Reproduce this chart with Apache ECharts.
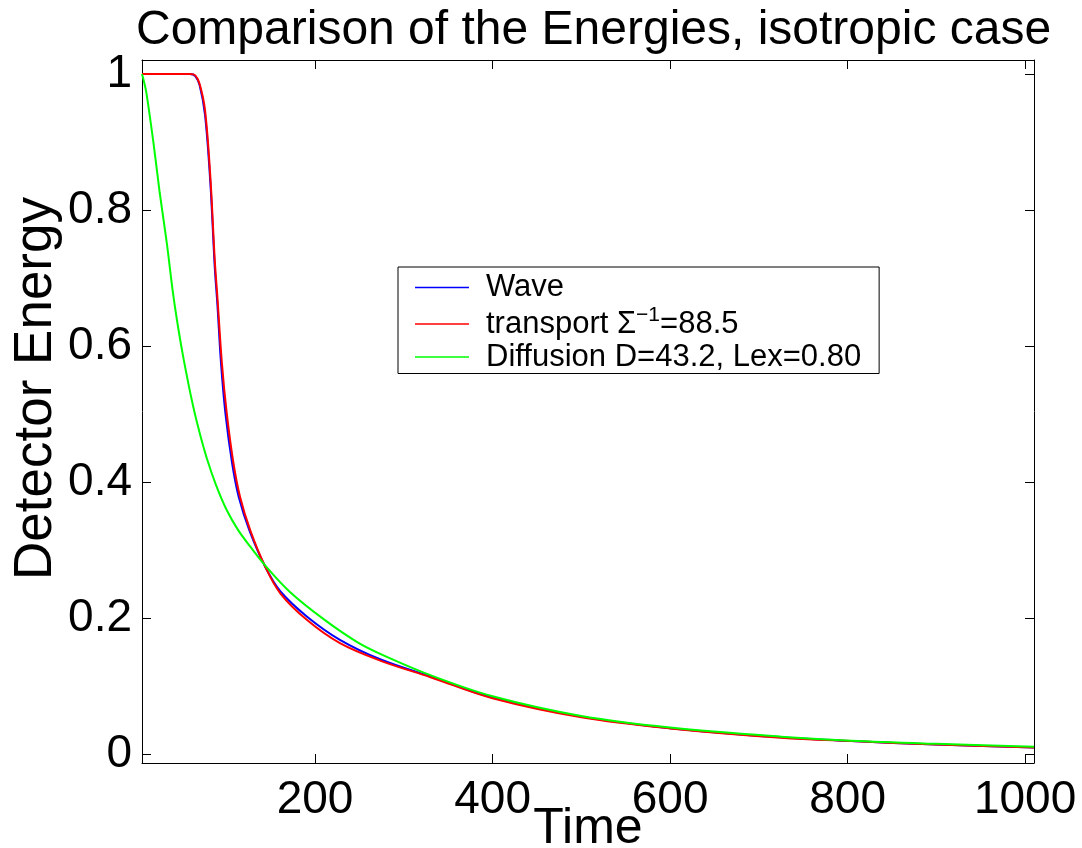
<!DOCTYPE html>
<html>
<head>
<meta charset="utf-8">
<script src="https://cdn.jsdelivr.net/npm/echarts@6/dist/echarts.min.js"></script>
<style>
  html, body { margin: 0; padding: 0; background: #fff; }
  #chart { width: 1082px; height: 848px; }
</style>
</head>
<body>
<div id="chart"></div>
<script>
const FONT = '"Liberation Sans", Arial, Helvetica, sans-serif';

const xTicks = [200, 400, 600, 800, 1000];
const yTicks = [0, 0.2, 0.4, 0.6, 0.8, 1];

const waveTime = [5, 59, 65, 70, 76, 82, 87, 90, 94, 99, 106.5, 114, 126, 144, 161, 191, 228, 274, 330, 400, 500, 600, 725, 804, 900, 1010];
const waveEnergy = [1, 1, 0.997, 0.983, 0.94, 0.84, 0.715, 0.66, 0.575, 0.501, 0.428, 0.378, 0.329, 0.275, 0.239, 0.202, 0.168, 0.139, 0.114, 0.083, 0.055, 0.038, 0.0245, 0.019, 0.014, 0.0097];

const transportTime = [5, 59, 65, 70, 76, 82, 87, 90, 95, 100.5, 108, 115.5, 127, 144, 161, 191, 228, 274, 330, 400, 500, 600, 725, 804, 900, 1010];
const transportEnergy = [1, 1, 0.998, 0.985, 0.947, 0.849, 0.726, 0.671, 0.575, 0.501, 0.428, 0.378, 0.329, 0.275, 0.236, 0.197, 0.163, 0.137, 0.113, 0.082, 0.054, 0.0377, 0.024, 0.019, 0.014, 0.0095];

const diffusionTime = [5, 7, 10, 18, 25, 33, 40, 46, 52, 62, 70, 78, 88, 100, 113, 127, 144, 172, 210, 247, 274, 330, 400, 500, 600, 725, 804, 900, 1010];
const diffusionEnergy = [1, 0.99, 0.972, 0.898, 0.825, 0.751, 0.677, 0.625, 0.58, 0.515, 0.472, 0.435, 0.397, 0.36, 0.33, 0.305, 0.277, 0.238, 0.198, 0.165, 0.147, 0.116, 0.085, 0.056, 0.039, 0.0255, 0.0196, 0.015, 0.0107];

const zip = (xs, ys) => xs.map((x, i) => [x, ys[i]]);

const xMin = 5, xMax = 1010;
const yMin = -0.0132, yMax = 1.0206;

const chart = echarts.init(document.getElementById('chart'));

function lineSeries(name, data, color) {
  return {
    name,
    type: 'line',
    data,
    symbol: 'none',
    smooth: 0.35,
    lineStyle: { color, width: 2 },
    itemStyle: { color },
    animation: false
  };
}

const boxAxis = {
  axisLine: { show: true, onZero: false, lineStyle: { color: '#000', width: 1 } },
  splitLine: { show: false }
};

chart.setOption({
  backgroundColor: '#fff',
  animation: false,
  title: {
    text: 'Comparison of the Energies, isotropic case',
    left: 131,
    top: 2,
    textStyle: { fontFamily: FONT, fontSize: 48, fontWeight: 'normal', color: '#000' }
  },
  grid: { left: 142, right: 48, top: 60, bottom: 85, outerBoundsMode: 'none', containLabel: false },
  legend: {
    orient: 'vertical',
    left: 398,
    top: 267,
    padding: [5, 18, 1, 17],
    itemGap: 2,
    itemWidth: 54,
    itemHeight: 1.5,
    icon: 'rect',
    borderColor: '#000',
    borderWidth: 1,
    backgroundColor: '#fff',
    data: ['Wave', 'transport', 'Diffusion D=43.2, Lex=0.80'],
    formatter: name => name === 'transport'
      ? '{n|transport Σ}{sup|−1}{n|=88.5}'
      : '{n|' + name + '}',
    textStyle: {
      fontFamily: FONT,
      fontSize: 31,
      color: '#000',
      padding: [0, 0, 0, 12],
      rich: {
        n: { fontFamily: FONT, fontSize: 31, color: '#000', lineHeight: 38 },
        sup: { fontFamily: FONT, fontSize: 21, color: '#000', lineHeight: 38, verticalAlign: 'top', padding: [0, 0, 12, 0] }
      }
    }
  },
  xAxis: [
    Object.assign({
      type: 'value',
      position: 'bottom',
      min: xMin,
      max: xMax,
      name: 'Time',
      nameLocation: 'middle',
      nameGap: 41,
      nameMoveOverlap: false,
      nameTextStyle: { fontFamily: FONT, fontSize: 50, color: '#000' },
      axisTick: { inside: true, length: 9, customValues: xTicks, lineStyle: { color: '#000' } },
      axisLabel: { customValues: xTicks, formatter: v => String(v), fontFamily: FONT, fontSize: 46, color: '#000', margin: 14 }
    }, boxAxis),
    Object.assign({
      type: 'value',
      position: 'top',
      min: xMin,
      max: xMax,
      axisTick: { inside: true, length: 9, customValues: xTicks, lineStyle: { color: '#000' } },
      axisLabel: { show: false }
    }, boxAxis)
  ],
  yAxis: [
    Object.assign({
      type: 'value',
      position: 'left',
      min: yMin,
      max: yMax,
      name: 'Detector Energy',
      nameLocation: 'middle',
      nameGap: 79,
      nameMoveOverlap: false,
      nameRotate: 90,
      nameTextStyle: { fontFamily: FONT, fontSize: 53, color: '#000', padding: [0, 0, 0, 46] },
      axisTick: { inside: true, length: 9, customValues: yTicks, lineStyle: { color: '#000' } },
      axisLabel: { customValues: yTicks, formatter: v => String(v), fontFamily: FONT, fontSize: 46, color: '#000', margin: 10 }
    }, boxAxis),
    Object.assign({
      type: 'value',
      position: 'right',
      min: yMin,
      max: yMax,
      axisTick: { inside: true, length: 9, customValues: yTicks, lineStyle: { color: '#000' } },
      axisLabel: { show: false }
    }, boxAxis)
  ],
  series: [
    lineSeries('Wave', zip(waveTime, waveEnergy), '#0000ff'),
    lineSeries('transport', zip(transportTime, transportEnergy), '#ff0000'),
    lineSeries('Diffusion D=43.2, Lex=0.80', zip(diffusionTime, diffusionEnergy), '#00ff00')
  ]
});
</script>
</body>
</html>
